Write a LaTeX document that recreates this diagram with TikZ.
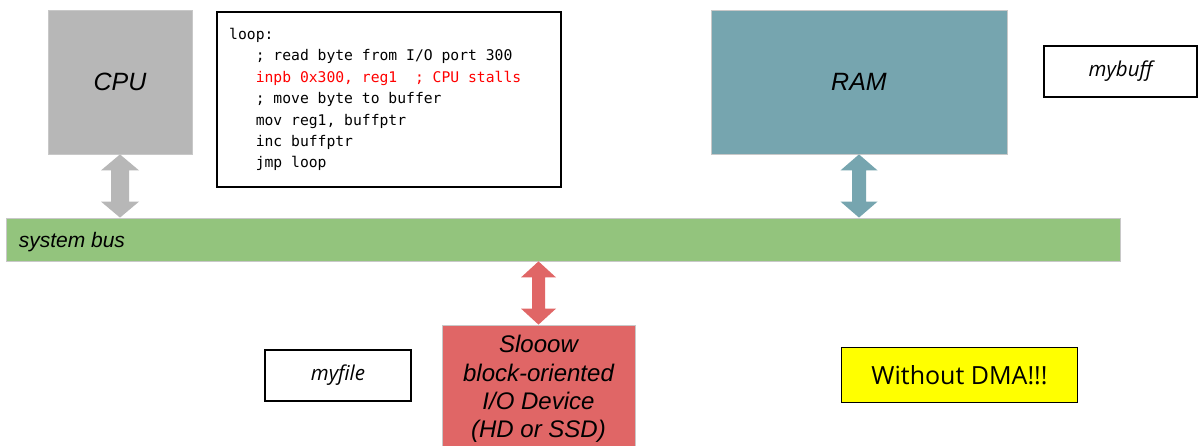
\documentclass[tikz,border=0pt]{standalone}
\usepackage{fontspec}
\setmainfont{Liberation Sans}
\newfontfamily\boxfont{Open Sans}
\newfontfamily\codefont{DejaVu Sans Mono}
\usetikzlibrary{calc}

\definecolor{cpugray}{HTML}{B7B7B7}
\definecolor{ramteal}{HTML}{76A5AF}
\definecolor{busgreen}{HTML}{93C47D}
\definecolor{devred}{HTML}{E06666}
\definecolor{edgegray}{HTML}{C8C8C8}
\definecolor{codered}{HTML}{FF0000}
\definecolor{dmayellow}{HTML}{FFFF00}

\tikzset{
  unit/.style={draw=edgegray, line width=0.8pt, inner sep=0pt,
    font=\fontsize{25}{30}\selectfont\itshape},
  note/.style={draw=black, line width=2pt, fill=white, inner sep=0pt,
    font=\boxfont\fontsize{20.5}{24}\selectfont\itshape},
}

% double-headed block arrow between two points on the same vertical
% #1 upper point, #2 lower point, #3 colour, #4 half shaft width, #5 half head width
\newcommand\busarrow[5]{%
  \fill[#3] let \p1=(#1), \p2=(#2) in
    (\x1,\y1) -- (\x1+#5,\y1-16pt) -- (\x1+#4,\y1-16pt) -- (\x1+#4,\y2+16pt)
    -- (\x1+#5,\y2+16pt) -- (\x1,\y2) -- (\x1-#5,\y2+16pt) -- (\x1-#4,\y2+16pt)
    -- (\x1-#4,\y1-16pt) -- (\x1-#5,\y1-16pt) -- cycle;}

\begin{document}
\begin{tikzpicture}[x=1pt, y=-1pt]
\useasboundingbox[fill=white] (0,0) rectangle (1202,445);

% hardware blocks
\node[unit, fill=cpugray, minimum width=144pt, minimum height=144pt] (cpu) at (120,82) {CPU};
\node[unit, fill=ramteal, minimum width=296pt, minimum height=144pt] (ram) at (859,82) {RAM};
\node[unit, fill=busgreen, minimum width=1114pt, minimum height=43pt] (bus) at (563,239.5) {};
\node[anchor=west, inner sep=0pt, font=\fontsize{21}{25}\selectfont\itshape] (buslabel)
  at ([xshift=13pt, yshift=-2.5pt]bus.west) {system bus};
\node[unit, fill=devred, minimum width=193pt, minimum height=128pt, align=center,
  font=\fontsize{24}{28.3}\selectfont\itshape] (io) at (538.5,389)
  {Slooow\\block-oriented\\I/O Device\\(HD or SSD)};

% polling loop
\node[draw=black, line width=2.3pt, fill=white, minimum width=344pt, minimum height=175pt] (code) at (389,99.5) {};
\node[anchor=north west, inner sep=0pt, align=left,
  font=\codefont\fontsize{14.7}{21.4}\selectfont] (listing) at (229,28)
  {loop:\\
   \phantom{xxx}; read byte from I/O port 300\\
   \phantom{xxx}\textcolor{codered}{inpb 0x300, reg1~~; CPU stalls}\\
   \phantom{xxx}; move byte to buffer\\
   \phantom{xxx}mov reg1, buffptr\\
   \phantom{xxx}inc buffptr\\
   \phantom{xxx}jmp loop};

% data locations
\node[note, minimum width=153pt, minimum height=51pt] (mybuff) at (1120.5,71.5) {mybuff};
\node[note, minimum width=146pt, minimum height=51pt] (myfile) at (338,375.5) {myfile};

\node[draw=black, line width=1.3pt, fill=dmayellow, minimum width=236pt, minimum height=55pt,
  inner sep=0pt, font=\boxfont\fontsize{25}{30}\selectfont] (dma) at (959.5,375) {Without DMA!!!};

% bus connections
\busarrow{cpu.south}{cpu.south |- bus.north}{cpugray}{9pt}{19pt}
\busarrow{ram.south}{ram.south |- bus.north}{ramteal}{7pt}{18.5pt}
\busarrow{io.north |- bus.south}{io.north}{devred}{6.5pt}{17.5pt}
\end{tikzpicture}
\end{document}
